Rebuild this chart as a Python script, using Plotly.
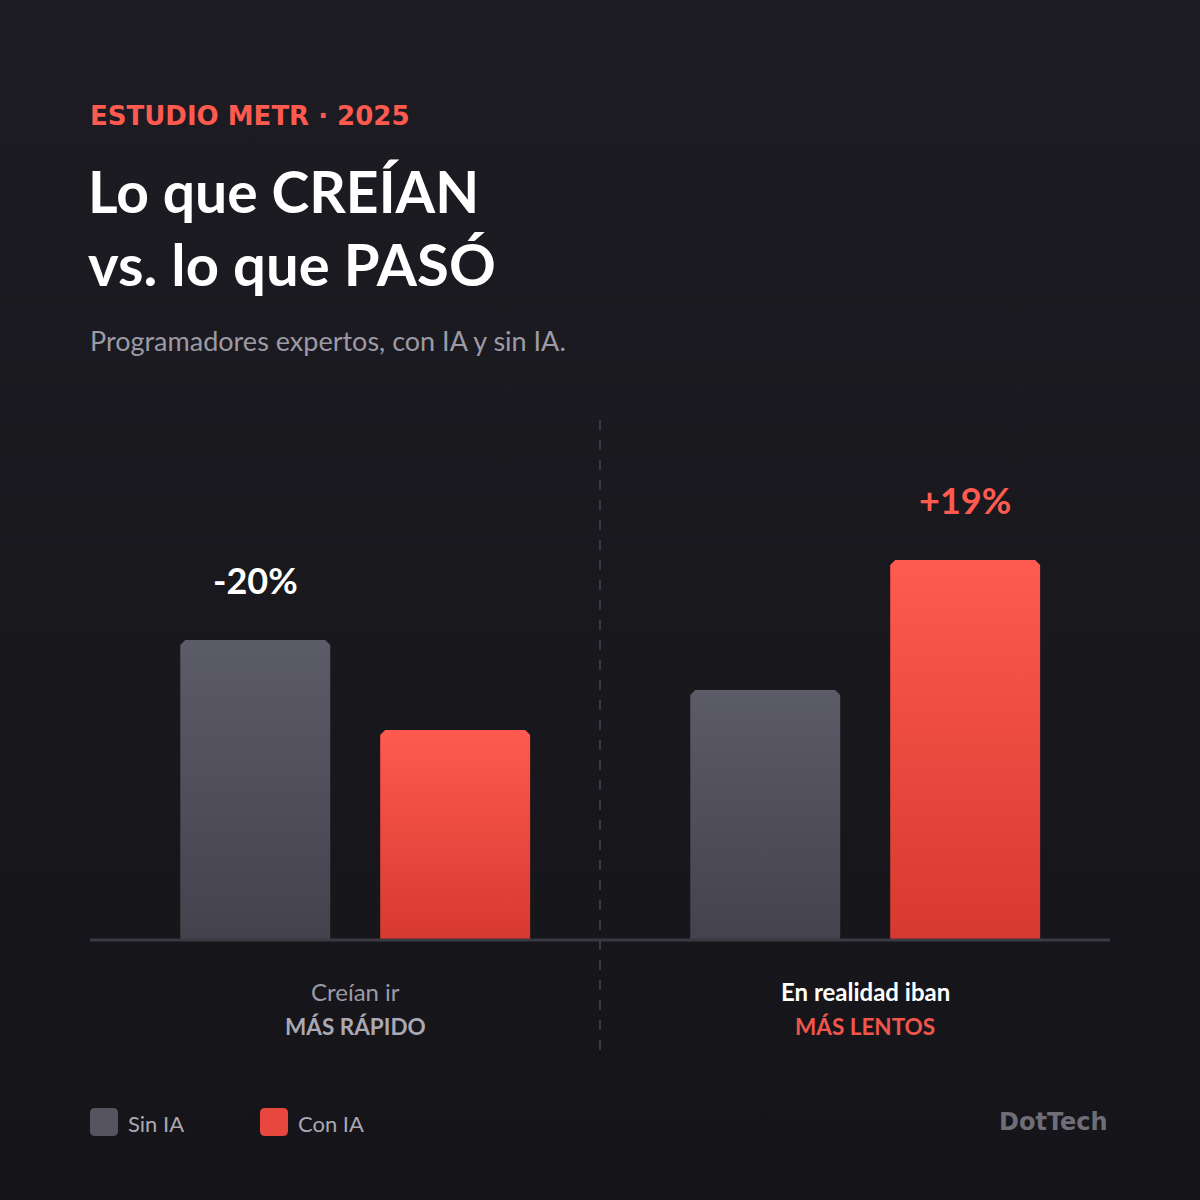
"""Lo que creían vs. lo que pasó: estudio METR 2025, con IA y sin IA."""

import plotly.graph_objects as go

# Datos (alturas relativas)
grupos = ["Creían ir", "En realidad iban"]
grupos_sub = ["MÁS RÁPIDO", "MÁS LENTOS"]
sin_ia = [300, 250]
con_ia = [210, 380]
etiquetas = ["-20%", "+19%"]
series = ["Sin IA", "Con IA"]

W = H = 1200
BG_TOP, BG_BOTTOM = "#1d1c22", "#151419"
GRAY_TOP, GRAY_BOTTOM = "#5c5b68", "#43424d"
RED_TOP, RED_BOTTOM = "#ff5a4f", "#d6392f"


def px_x(p):
    return p / W


def px_y(p):
    return 1 - p / H


def bar_shape(cx, width, h, rx, ry):
    """Polygon for a bar with slightly cut top corners."""
    x0, x1 = cx - width / 2, cx + width / 2
    xs = [x0, x0, x0 + rx, x1 - rx, x1, x1, x0]
    ys = [0, h - ry, h, h, h - ry, 0, 0]
    return xs, ys


def round_rect(x0, y0, x1, y1, r):
    """SVG path (paper coords) for a small rounded square; inputs in px."""
    X = lambda p: px_x(p)
    Y = lambda p: px_y(p)
    return (
        f"M {X(x0 + r)},{Y(y0)} L {X(x1 - r)},{Y(y0)} Q {X(x1)},{Y(y0)} {X(x1)},{Y(y0 + r)} "
        f"L {X(x1)},{Y(y1 - r)} Q {X(x1)},{Y(y1)} {X(x1 - r)},{Y(y1)} "
        f"L {X(x0 + r)},{Y(y1)} Q {X(x0)},{Y(y1)} {X(x0)},{Y(y1 - r)} "
        f"L {X(x0)},{Y(y0 + r)} Q {X(x0)},{Y(y0)} {X(x0 + r)},{Y(y0)} Z"
    )


fig = go.Figure()

# Fondo con degradado vertical (ejes a pantalla completa)
fig.add_trace(
    go.Scatter(
        x=[0, 1, 1, 0, 0],
        y=[0, 0, 1, 1, 0],
        fill="toself",
        mode="lines",
        line=dict(width=0),
        fillgradient=dict(type="vertical", colorscale=[[0, BG_BOTTOM], [1, BG_TOP]]),
        hoverinfo="skip",
        showlegend=False,
        xaxis="x",
        yaxis="y",
    )
)

# Barras
bar_w = 0.294
offset = 0.196
rx, ry = 5 / 510, 5
for i, g in enumerate(grupos):
    for vals, dx, (top, bottom), name in [
        (sin_ia, -offset, (GRAY_TOP, GRAY_BOTTOM), series[0]),
        (con_ia, offset, (RED_TOP, RED_BOTTOM), series[1]),
    ]:
        xs, ys = bar_shape(i + dx, bar_w, vals[i], rx, ry)
        fig.add_trace(
            go.Scatter(
                x=xs,
                y=ys,
                fill="toself",
                mode="lines",
                line=dict(width=0),
                fillgradient=dict(
                    type="vertical", colorscale=[[0, bottom], [1, top]]
                ),
                name=name,
                showlegend=False,
                hoverinfo="skip",
                xaxis="x2",
                yaxis="y2",
            )
        )

# Etiquetas de porcentaje
fig.add_annotation(
    x=0 - offset, y=sin_ia[0] + 60, xref="x2", yref="y2",
    text=etiquetas[0], showarrow=False,
    font=dict(family="Lato", size=36, color="#ffffff", weight=700),
)
fig.add_annotation(
    x=1 + offset, y=con_ia[1] + 60, xref="x2", yref="y2",
    text=etiquetas[1], showarrow=False,
    font=dict(family="Lato", size=36, color="#ff5a4f", weight=700),
)

shapes = [
    # línea base
    dict(type="line", xref="paper", yref="paper",
         x0=px_x(90), x1=px_x(1110), y0=px_y(940), y1=px_y(940),
         line=dict(color="#3a3942", width=3), layer="above"),
    # divisor
    dict(type="line", xref="paper", yref="paper",
         x0=px_x(600), x1=px_x(600), y0=px_y(420), y1=px_y(1060),
         line=dict(color="#3a3942", width=2, dash="10px,10px"), layer="above"),
    # leyenda
    dict(type="path", xref="paper", yref="paper",
         path=round_rect(90, 1108, 118, 1136, 5),
         fillcolor="#55545f", line=dict(width=0)),
    dict(type="path", xref="paper", yref="paper",
         path=round_rect(260, 1108, 288, 1136, 5),
         fillcolor="#e8473d", line=dict(width=0)),
]


def note(text, x, y, size, color, family="Lato", weight=400, xanchor="left"):
    fig.add_annotation(
        x=px_x(x), y=px_y(y), xref="paper", yref="paper",
        text=text, showarrow=False, xanchor=xanchor, yanchor="middle",
        font=dict(family=family, size=size, color=color, weight=weight),
    )


note("ESTUDIO METR · 2025", 88, 116, 26, "#ff5a4f", family="DejaVu Sans", weight=700)
note("Lo que CREÍAN", 86, 191, 57, "#ffffff", weight=700)
note("vs. lo que PASÓ", 86, 264, 58, "#ffffff", weight=700)
note("Programadores expertos, con IA y sin IA.", 88, 340, 27, "#9b9aa6")

note(grupos[0], 355, 991, 24, "#9b9aa6", xanchor="center")
note(grupos_sub[0], 355, 1026, 22.5, "#a9a8b3", weight=700, xanchor="center")
note(grupos[1], 865, 991, 24, "#ffffff", weight=700, xanchor="center")
note(grupos_sub[1], 865, 1026, 22.5, "#f0564b", weight=700, xanchor="center")

note(series[0], 126, 1123, 22, "#a9a8b3")
note(series[1], 296, 1123, 22, "#a9a8b3")
note("DotTech", 1110, 1122, 24, "#6e6d78", family="DejaVu Sans", weight=700, xanchor="right")

fig.update_layout(
    width=W,
    height=H,
    margin=dict(l=0, r=0, t=0, b=0),
    paper_bgcolor=BG_BOTTOM,
    plot_bgcolor="rgba(0,0,0,0)",
    showlegend=False,
    shapes=shapes,
    xaxis=dict(domain=[0, 1], range=[0, 1], visible=False, fixedrange=True),
    yaxis=dict(domain=[0, 1], range=[0, 1], visible=False, fixedrange=True),
    xaxis2=dict(domain=[px_x(90), px_x(1110)], range=[-0.52, 1.48],
                visible=False, fixedrange=True, anchor="y2"),
    yaxis2=dict(domain=[px_y(940), px_y(400)], range=[0, 540],
                visible=False, fixedrange=True, anchor="x2"),
)

fig.write_html(
    "out.html",
    config={"displayModeBar": False},
    post_script="document.body.style.margin='0';",
)
